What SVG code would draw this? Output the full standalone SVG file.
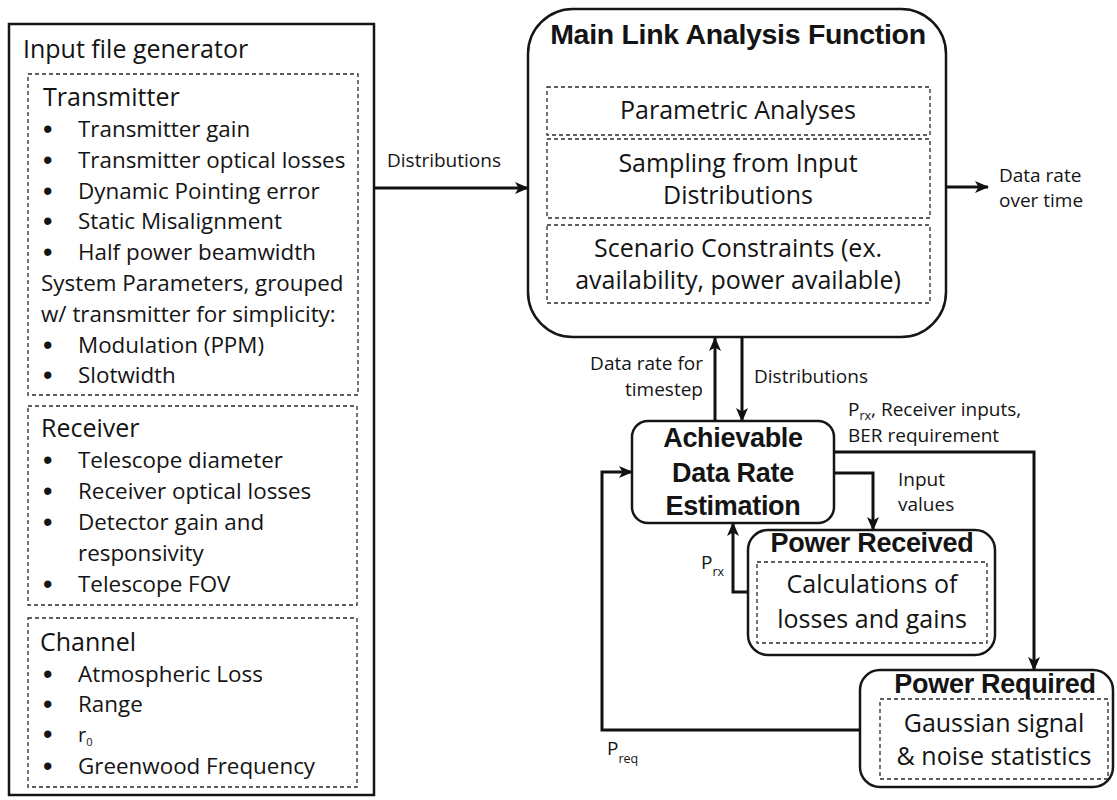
<svg xmlns="http://www.w3.org/2000/svg" width="1117" height="800" viewBox="0 0 1117 800">
  <style>
    .box { fill: #fff; stroke: #161616; stroke-width: 2.5; }
    .dash { fill: none; stroke: #2a2a2a; stroke-width: 1.3; stroke-dasharray: 4 3; }
    .wire { fill: none; stroke: #111; stroke-width: 3; stroke-linejoin: miter; }
    text { font-family: "Open Sans", "Liberation Sans", sans-serif; fill: #141414; }
    .h { font-size: 25px; }
    .li { font-size: 22.4px; }
    .bul { font-size: 27px; font-family: "Liberation Sans", Arial, sans-serif; }
    .mid { font-size: 25px; text-anchor: middle; }
    .lbl { font-size: 19px; }
    .title { font-family: "Liberation Sans", Arial, sans-serif; font-weight: bold; font-size: 27px; text-anchor: middle; letter-spacing: -0.3px; }
    .sub { font-size: 12.5px; }
  </style>
  <defs>
    <marker id="arrow" markerUnits="userSpaceOnUse" markerWidth="16" markerHeight="14" refX="13" refY="6" orient="auto">
      <path d="M0,0 L14,6 L0,12 L3.5,6 z" fill="#111"/>
    </marker>
  </defs>
  <rect width="1117" height="800" fill="#fff"/>

  <!-- Input file generator -->
  <g id="input-file-generator">
    <rect class="box" x="9" y="24" width="365" height="771"/>
    <text class="h" x="23" y="58">Input file generator</text>

    <g id="transmitter">
      <rect class="dash" x="28" y="74" width="330" height="321"/>
      <text class="h" x="43" y="106">Transmitter</text>
      <g class="li">
        <text class="bul" x="43" y="138">•</text><text x="78" y="137">Transmitter gain</text>
        <text class="bul" x="43" y="169">•</text><text x="78" y="168">Transmitter optical losses</text>
        <text class="bul" x="43" y="200">•</text><text x="78" y="199">Dynamic Pointing error</text>
        <text class="bul" x="43" y="230">•</text><text x="78" y="229">Static Misalignment</text>
        <text class="bul" x="43" y="261">•</text><text x="78" y="260">Half power beamwidth</text>
        <text x="41" y="291">System Parameters, grouped</text>
        <text x="41" y="322">w/ transmitter for simplicity:</text>
        <text class="bul" x="43" y="354">•</text><text x="78" y="353">Modulation (PPM)</text>
        <text class="bul" x="43" y="384">•</text><text x="78" y="383">Slotwidth</text>
      </g>
    </g>

    <g id="receiver">
      <rect class="dash" x="28" y="406" width="329" height="199"/>
      <text class="h" x="41" y="437">Receiver</text>
      <g class="li">
        <text class="bul" x="43" y="469">•</text><text x="78" y="468">Telescope diameter</text>
        <text class="bul" x="43" y="500">•</text><text x="78" y="499">Receiver optical losses</text>
        <text class="bul" x="43" y="531">•</text><text x="78" y="530">Detector gain and</text>
        <text x="78" y="561">responsivity</text>
        <text class="bul" x="43" y="593">•</text><text x="78" y="592">Telescope FOV</text>
      </g>
    </g>

    <g id="channel">
      <rect class="dash" x="28" y="618" width="329" height="169"/>
      <text class="h" x="40" y="651">Channel</text>
      <g class="li">
        <text class="bul" x="43" y="683">•</text><text x="78" y="682">Atmospheric Loss</text>
        <text class="bul" x="43" y="713">•</text><text x="78" y="712">Range</text>
        <text class="bul" x="43" y="743">•</text><text x="78" y="742" font-size="20px">r<tspan font-size="11px" dy="4">0</tspan></text>
        <text class="bul" x="43" y="775">•</text><text x="78" y="774">Greenwood Frequency</text>
      </g>
    </g>
  </g>

  <!-- Main Link Analysis Function -->
  <g id="main-link-analysis">
    <rect class="box" x="528" y="9" width="418" height="328" rx="45" ry="45"/>
    <text class="title" x="738" y="44" style="font-size:28.5px">Main Link Analysis Function</text>
    <rect class="dash" x="547" y="87" width="383" height="48"/>
    <text class="mid" x="738" y="119">Parametric Analyses</text>
    <rect class="dash" x="547" y="139" width="383" height="79"/>
    <text class="mid" x="738" y="172">Sampling from Input</text>
    <text class="mid" x="738" y="204">Distributions</text>
    <rect class="dash" x="547" y="225" width="383" height="78"/>
    <text class="mid" x="738" y="257">Scenario Constraints (ex.</text>
    <text class="mid" x="738" y="289">availability, power available)</text>
  </g>

  <!-- Achievable Data Rate Estimation -->
  <g id="achievable-data-rate">
    <rect class="box" x="632" y="421" width="202" height="102" rx="16" ry="16"/>
    <text class="title" x="733" y="447">Achievable</text>
    <text class="title" x="733" y="482">Data Rate</text>
    <text class="title" x="733" y="515">Estimation</text>
  </g>

  <!-- Power Received -->
  <g id="power-received">
    <rect class="box" x="748" y="530" width="247" height="125" rx="20" ry="20"/>
    <text class="title" x="872" y="552">Power Received</text>
    <rect class="dash" x="757" y="562" width="230" height="81"/>
    <text class="mid" x="872" y="593">Calculations of</text>
    <text class="mid" x="872" y="628">losses and gains</text>
  </g>

  <!-- Power Required -->
  <g id="power-required">
    <rect class="box" x="860" y="670" width="253" height="117" rx="20" ry="20"/>
    <text class="title" x="995" y="693">Power Required</text>
    <rect class="dash" x="880" y="699" width="228" height="80"/>
    <text class="mid" x="994" y="732">Gaussian signal</text>
    <text class="mid" x="994" y="765">&amp; noise statistics</text>
  </g>

  <!-- Connectors -->
  <g id="connectors">
    <path class="wire" d="M374,188 H528" marker-end="url(#arrow)"/>
    <path class="wire" d="M946,187 H988" marker-end="url(#arrow)"/>
    <path class="wire" d="M715,421 V338" marker-end="url(#arrow)"/>
    <path class="wire" d="M742,337 V421" marker-end="url(#arrow)"/>
    <path class="wire" d="M834,452 H1034 V670" marker-end="url(#arrow)"/>
    <path class="wire" d="M834,473 H873 V530" marker-end="url(#arrow)"/>
    <path class="wire" d="M748,592 H733 V523" marker-end="url(#arrow)"/>
    <path class="wire" d="M860,730 H602 V472 H632" marker-end="url(#arrow)"/>
  </g>

  <!-- Connector labels -->
  <g id="labels" class="lbl">
    <text x="387" y="167">Distributions</text>
    <text x="999" y="182">Data rate</text>
    <text x="999" y="207">over time</text>
    <text x="703" y="370" text-anchor="end">Data rate for</text>
    <text x="703" y="396" text-anchor="end">timestep</text>
    <text x="754" y="383">Distributions</text>
    <text x="848" y="416">P<tspan class="sub" dy="4">rx</tspan><tspan dy="-4">, Receiver inputs,</tspan></text>
    <text x="848" y="442">BER requirement</text>
    <text x="898" y="486">Input</text>
    <text x="898" y="511">values</text>
    <text x="701" y="569">P<tspan class="sub" dy="7">rx</tspan></text>
    <text x="607" y="755">P<tspan class="sub" dy="8">req</tspan></text>
  </g>
</svg>
